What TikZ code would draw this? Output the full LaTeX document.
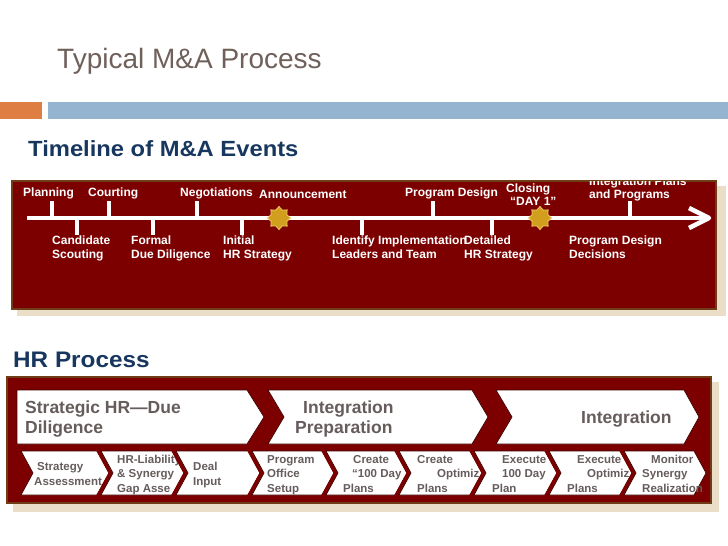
\documentclass[tikz,border=0pt]{standalone}
\usepackage{fontspec}
\setmainfont{Liberation Sans}
\newfontfamily\headfont[FakeStretch=1.08]{Liberation Sans}
\usetikzlibrary{shapes.geometric}
\definecolor{boxred}{RGB}{125,0,0}
\definecolor{boxedge}{RGB}{112,62,22}
\definecolor{chevline}{RGB}{60,0,0}
\definecolor{shadowc}{RGB}{234,222,200}
\definecolor{navy}{RGB}{23,55,94}
\definecolor{titlec}{RGB}{112,96,90}
\definecolor{orangec}{RGB}{222,126,66}
\definecolor{bluec}{RGB}{148,180,208}
\definecolor{chevtext}{RGB}{102,92,92}
\definecolor{gold}{RGB}{210,158,30}
\definecolor{goldedge}{RGB}{238,200,100}
\newcommand\mychev[2]{%
  \draw[chev] ({#1+4-12},451) -- ({#2-12},451) -- (#2,473) -- ({#2-12},495)
    -- ({#1+4-12},495) -- ({#1+4},473) -- cycle;}
\begin{document}
\begin{tikzpicture}[x=1pt,y=-1pt,
  tl/.style={text=white,font=\fontsize{12}{14}\selectfont\bfseries,inner sep=0,anchor=base west},
  tick/.style={draw=white,line width=3.5},
  bigchev/.style={fill=white,draw=chevline,line width=0.7},
  chev/.style={fill=white,draw=chevline,line width=0.7,preaction={draw=boxred,line width=8}},
  ctext/.style={text=chevtext,font=\fontsize{11.5}{14}\selectfont\bfseries,inner sep=0,anchor=base west},
  btext/.style={text=chevtext,font=\fontsize{17.5}{20}\selectfont\bfseries,inner sep=0,anchor=base west},
  head/.style={text=navy,inner sep=0,anchor=base west},
  staricon/.style={star,star points=8,star point ratio=1.35,minimum size=23,inner sep=0,fill=gold,draw=goldedge,line width=0.8},
  framebox/.style={fill=boxred,draw=boxedge,line width=1.5}]
\useasboundingbox (0,0) rectangle (728,546);
% title and bars
\node[text=titlec,font=\fontsize{28}{32}\selectfont,inner sep=0,anchor=base west] (title) at (57,68) {Typical M\&A Process};
\fill[orangec] (0,102) rectangle (42,119);
\fill[bluec] (48,102) rectangle (728,119);
% timeline section
\node[head,font=\headfont\fontsize{22}{26}\selectfont\bfseries] (tlhead) at (28,156) {Timeline of M\&A Events};
\fill[shadowc] (17,186) rectangle (726,316);
\draw[framebox] (12,181) rectangle (716,309);
\begin{scope}
\clip (12,181) rectangle (716,309);
\coordinate (ls) at (27,218);
\coordinate (le) at (706,218);
\draw[white,line width=4] (ls) -- (le);
\coordinate (ah1) at (689,208);
\coordinate (ahtip) at (709,218);
\coordinate (ah2) at (689,228);
\draw[white,line width=4.5,line join=round] (ah1) -- (ahtip) -- (ah2);
% ticks up
\foreach \n/\x in {tu1/52,tu2/109,tu3/197,tu4/433,tu5/630}{
  \coordinate (\n) at (\x,218);
  \draw[tick] (\n) -- ++(0,-17);}
% ticks down
\foreach \n/\x in {td1/77,td2/153,td3/242,td4/362,td5/492}{
  \coordinate (\n) at (\x,218);
  \draw[tick] (\n) -- ++(0,17);}
\node[staricon] (ann) at (279,218) {};
\node[staricon] (close) at (540,218) {};
% top labels
\node[tl] (l1) at (23,196.5) {Planning};
\node[tl] (l2) at (88,196.5) {Courting};
\node[tl] (l3) at (180,196) {Negotiations};
\node[tl] (l4) at (259,198.5) {Announcement};
\node[tl] (l5) at (405,196.5) {Program Design};
\node[tl] (l6a) at (506,192) {Closing};
\node[tl] (l6b) at (510,205.5) {“DAY 1”};
\node[tl] (l7a) at (589,185) {Integration Plans};
\node[tl] (l7b) at (589,198.5) {and Programs};
% bottom labels
\node[tl] (b1a) at (52,244) {Candidate};
\node[tl] (b1b) at (52,258) {Scouting};
\node[tl] (b2a) at (131,244) {Formal};
\node[tl] (b2b) at (131,258) {Due Diligence};
\node[tl] (b3a) at (223,244) {Initial};
\node[tl] (b3b) at (223,258) {HR Strategy};
\node[tl] (b4a) at (332,244) {Identify Implementation};
\node[tl] (b4b) at (332,258) {Leaders and Team};
\node[tl] (b5a) at (464,244) {Detailed};
\node[tl] (b5b) at (464,258) {HR Strategy};
\node[tl] (b6a) at (569,244) {Program Design};
\node[tl] (b6b) at (569,258) {Decisions};
\end{scope}
% HR process section
\node[head,font=\headfont\fontsize{22.5}{26}\selectfont\bfseries] (hrhead) at (13,367) {HR Process};
\fill[shadowc] (13,382) rectangle (719,512);
\draw[framebox] (7,377) rectangle (711,503);
% row 1
\draw[bigchev] (17,390) -- (247,390) -- (264,417) -- (247,444) -- (17,444) -- cycle;
\draw[bigchev] (268,390) -- (472,390) -- (488,417) -- (472,444) -- (268,444) -- (284,417) -- cycle;
\draw[bigchev] (496,390) -- (684,390) -- (699,417) -- (684,444) -- (496,444) -- (512,417) -- cycle;
\node[btext] (p1a) at (25,413) {Strategic HR—Due};
\node[btext] (p1b) at (25,433) {Diligence};
\node[btext] (p2a) at (303,413) {Integration};
\node[btext] (p2b) at (295,433) {Preparation};
\node[btext] (p3) at (581,423) {Integration};
% row 2
\mychev{29}{109}
\node[ctext] (sa1) at (37,470) {Strategy};
\node[ctext] (sa2) at (34,485) {Assessment};
\mychev{109}{184}
\node[ctext] (sb1) at (117,463) {HR-Liability};
\node[ctext] (sb2) at (117,477) {\& Synergy};
\node[ctext] (sb3) at (117,492) {Gap Asse};
\mychev{184}{260}
\node[ctext] (sc1) at (193,470) {Deal};
\node[ctext] (sc2) at (193,485) {Input};
\mychev{260}{334}
\node[ctext] (sd1) at (267,463) {Program};
\node[ctext] (sd2) at (267,477) {Office};
\node[ctext] (sd3) at (267,492) {Setup};
\mychev{334}{407}
\node[ctext] (se1) at (353,463) {Create};
\node[ctext] (se2) at (352,477) {“100 Day};
\node[ctext] (se3) at (343,492) {Plans};
\mychev{407}{482}
\node[ctext] (sf1) at (417,463) {Create};
\node[ctext] (sf2) at (437,477) {Optimiz};
\node[ctext] (sf3) at (417,492) {Plans};
\mychev{482}{557}
\node[ctext] (sg1) at (502,463) {Execute};
\node[ctext] (sg2) at (502,477) {100 Day};
\node[ctext] (sg3) at (492,492) {Plan};
\mychev{557}{632}
\node[ctext] (sh1) at (577,463) {Execute};
\node[ctext] (sh2) at (587,477) {Optimiz};
\node[ctext] (sh3) at (567,492) {Plans};
\mychev{632}{706}
\node[ctext] (si1) at (651,463) {Monitor};
\node[ctext] (si2) at (642,477) {Synergy};
\node[ctext] (si3) at (642,492) {Realization};
\end{tikzpicture}
\end{document}
